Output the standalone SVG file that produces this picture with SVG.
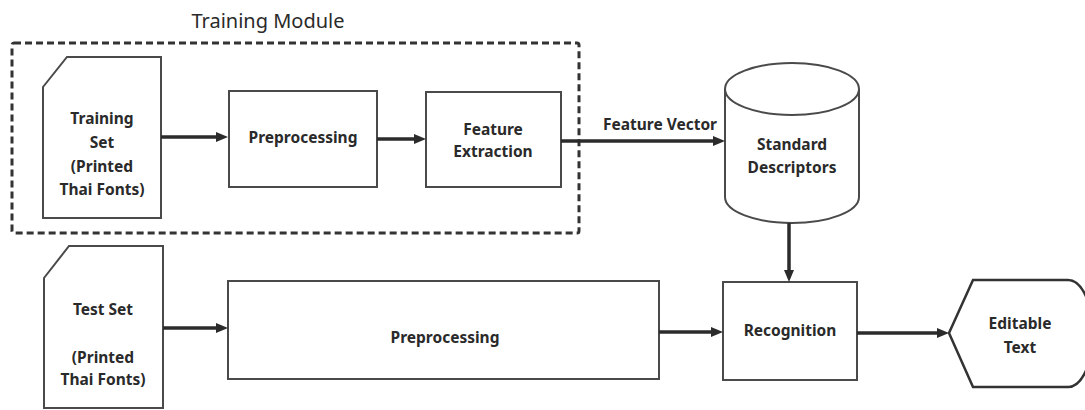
<svg xmlns="http://www.w3.org/2000/svg" width="1085" height="410" viewBox="0 0 1085 410">
<defs>
<style>
.box{fill:#fff;stroke:#4a4a4a;stroke-width:2}
.conn{stroke:#2b2b2b;stroke-width:3.5;fill:none}
.lbl{font-family:"Noto Sans","Open Sans",sans-serif;font-weight:bold;font-size:15.5px;fill:#2a2a2a;text-anchor:middle}
.title{font-family:"Noto Sans","Open Sans",sans-serif;font-size:20px;fill:#2a2a2a;text-anchor:middle}
</style>
<marker id="ah" markerUnits="userSpaceOnUse" markerWidth="12" markerHeight="10" refX="4" refY="5" orient="auto">
<path d="M0,0 L12,5 L0,10 z" fill="#2b2b2b"/>
</marker>
</defs>
<rect width="1085" height="410" fill="#fff"/>

<g id="training-module">
<rect x="12" y="43" width="567" height="190" fill="none" stroke="#333" stroke-width="3" stroke-dasharray="7 4" rx="2"/>
<text class="title" x="268" y="28">Training Module</text>
</g>

<g id="training-set">
<path class="box" d="M43,87 L67,57 L161,57 L161,218 L43,218 Z"/>
<text class="lbl" x="102" y="124">Training</text>
<text class="lbl" x="102" y="148">Set</text>
<text class="lbl" x="102" y="172">(Printed</text>
<text class="lbl" x="102" y="195">Thai Fonts)</text>
</g>

<g id="preprocessing-1">
<rect class="box" x="229" y="91" width="148" height="96"/>
<text class="lbl" x="303" y="143">Preprocessing</text>
</g>

<g id="feature-extraction">
<rect class="box" x="426" y="92" width="135" height="95"/>
<text class="lbl" x="493" y="135">Feature</text>
<text class="lbl" x="493" y="157">Extraction</text>
</g>

<g id="standard-descriptors">
<path class="box" d="M725,89 L725,197 A67,26 0 0 0 859,197 L859,89 A67,26 0 0 0 725,89 Z"/>
<path d="M725,89 A67,26 0 0 0 859,89" fill="none" stroke="#4a4a4a" stroke-width="2"/>
<text class="lbl" x="792" y="150">Standard</text>
<text class="lbl" x="792" y="173">Descriptors</text>
</g>

<g id="test-set">
<path class="box" d="M44,278 L69,246 L163,246 L163,408 L44,408 Z"/>
<text class="lbl" x="103" y="315">Test Set</text>
<text class="lbl" x="103" y="363">(Printed</text>
<text class="lbl" x="103" y="385">Thai Fonts)</text>
</g>

<g id="preprocessing-2">
<rect class="box" x="228" y="281" width="431" height="98"/>
<text class="lbl" x="445" y="343">Preprocessing</text>
</g>

<g id="recognition">
<rect class="box" x="723" y="282" width="134" height="98"/>
<text class="lbl" x="790" y="336">Recognition</text>
</g>

<g id="editable-text">
<path d="M949,333 L973,280 L1068,280 A25,53.5 0 0 1 1068,387 L973,387 Z" fill="#fff" stroke="#333" stroke-width="2.5"/>
<text class="lbl" x="1020" y="329">Editable</text>
<text class="lbl" x="1020" y="353">Text</text>
</g>

<g id="connectors">
<line class="conn" x1="161" y1="137" x2="220" y2="137" marker-end="url(#ah)"/>
<line class="conn" x1="377" y1="139" x2="418" y2="139" marker-end="url(#ah)"/>
<line class="conn" x1="561" y1="141" x2="717" y2="141" marker-end="url(#ah)"/>
<line class="conn" x1="789" y1="223" x2="789" y2="274" marker-end="url(#ah)"/>
<line class="conn" x1="163" y1="328" x2="220" y2="328" marker-end="url(#ah)"/>
<line class="conn" x1="659" y1="332" x2="715" y2="332" marker-end="url(#ah)"/>
<line class="conn" x1="857" y1="333" x2="941" y2="333" marker-end="url(#ah)"/>
<text class="lbl" x="660" y="130">Feature Vector</text>
</g>
</svg>
